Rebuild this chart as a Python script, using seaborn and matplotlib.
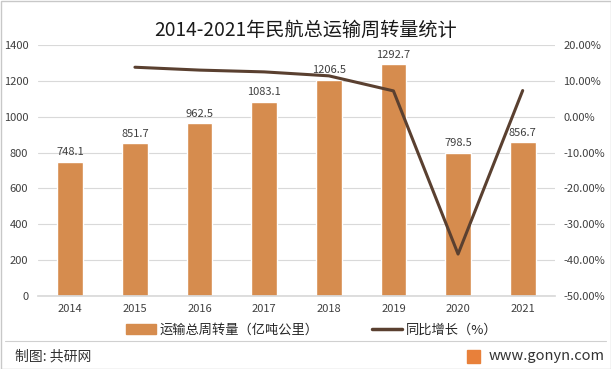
import matplotlib
matplotlib.use("Agg")
import matplotlib.pyplot as plt
import seaborn as sns
import pandas as pd
from matplotlib.patches import Rectangle
from matplotlib.lines import Line2D
from matplotlib.ticker import FuncFormatter, MultipleLocator

years = [2014, 2015, 2016, 2017, 2018, 2019, 2020, 2021]
volume = [748.1, 851.7, 962.5, 1083.1, 1206.5, 1292.7, 798.5, 856.7]
growth_years = [2015, 2016, 2017, 2018, 2019, 2020, 2021]
growth = [13.8, 13.0, 12.5, 11.4, 7.2, -38.3, 7.3]

title = "2014-2021年民航总运输周转量统计"
bar_label = "运输总周转量（亿吨公里）"
line_label = "同比增长（%）"

sns.set_theme(style="white")
plt.rcParams['font.family'] = ['Noto Sans CJK SC', 'DejaVu Sans']

bar_color = "#D68C4E"
line_color = "#5A4030"

fig = plt.figure(figsize=(6.11, 3.69), dpi=100)
W, H = 611, 369
ax = fig.add_axes([38 / W, 1 - 296 / H, (555 - 38) / W, (296 - 45) / H])

df = pd.DataFrame({"year": years, "volume": volume})
sns.barplot(data=df, x="year", y="volume", native_scale=True, width=0.4,
            color=bar_color, saturation=1, ax=ax)
ax.set_xlim(2013.5, 2021.5)
ax.set_ylim(0, 1400)
ax.yaxis.set_major_locator(MultipleLocator(200))
ax.grid(axis="y", color="#D9D9D9", linewidth=0.8)
ax.set_axisbelow(True)
for s in ax.spines.values():
    s.set_visible(False)
ax.spines["bottom"].set_visible(True)
ax.spines["bottom"].set_color("#D9D9D9")
ax.set_xlabel("")
ax.set_ylabel("")
ax.set_xticks(years)
ax.set_xticklabels([str(y) for y in years])
ax.tick_params(axis="x", labelsize=8, colors="#404040", length=0, pad=6)
ax.tick_params(axis="y", labelsize=8, colors="#404040", length=0, pad=7)

for x, v in zip(years, volume):
    ax.text(x, v + 25, f"{v}", ha="center", va="bottom", fontsize=8, color="#404040")

ax2 = ax.twinx()
gdf = pd.DataFrame({"year": growth_years, "growth": growth})
sns.lineplot(data=gdf, x="year", y="growth", color=line_color, linewidth=2.2, ax=ax2)
ax2.set_ylim(-50, 20)
ax2.yaxis.set_major_locator(MultipleLocator(10))
ax2.yaxis.set_major_formatter(FuncFormatter(lambda v, p: f"{v:.2f}%"))
ax2.tick_params(axis="y", labelsize=8, colors="#404040", length=0, pad=6)
ax2.set_ylabel("")
ax2.set_xlabel("")
for s in ax2.spines.values():
    s.set_visible(False)
ax2.grid(False)

fig.text(0.5, 1 - 30 / H, title, ha="center", va="center", fontsize=13.8, color="#1a1a1a")

handles = [Rectangle((0, 0), 1, 1, color=bar_color),
           Line2D([0], [0], color=line_color, linewidth=2.5)]
fig.legend(handles, [bar_label, line_label], loc="center",
           bbox_to_anchor=(0.51, 1 - 330 / H), ncol=2, frameon=False,
           fontsize=9.5, handlelength=2.3, handletextpad=0.3, columnspacing=4)

fig.add_artist(Line2D([5 / W, 606 / W], [1 - 341 / H, 1 - 341 / H],
                      color="#D0D0D0", linewidth=0.8, transform=fig.transFigure))
fig.text(15 / W, 1 - 356 / H, "制图: 共研网", ha="left", va="center", fontsize=10, color="#333333")
fig.text(489 / W, 1 - 356 / H, "www.gonyn.com", ha="left",
         va="center", fontsize=10.5, color="#333333")
fig.add_artist(Rectangle((467 / W, 1 - 363 / H), 13 / W, 13 / H, color="#E8803A",
                         transform=fig.transFigure))
fig.add_artist(Rectangle((0.5 / W, 0.5 / H), 1 - 1 / W, 1 - 1 / H, fill=False,
                         edgecolor="#C8C8C8", linewidth=1, transform=fig.transFigure))

fig.savefig("out.png", dpi=100)
